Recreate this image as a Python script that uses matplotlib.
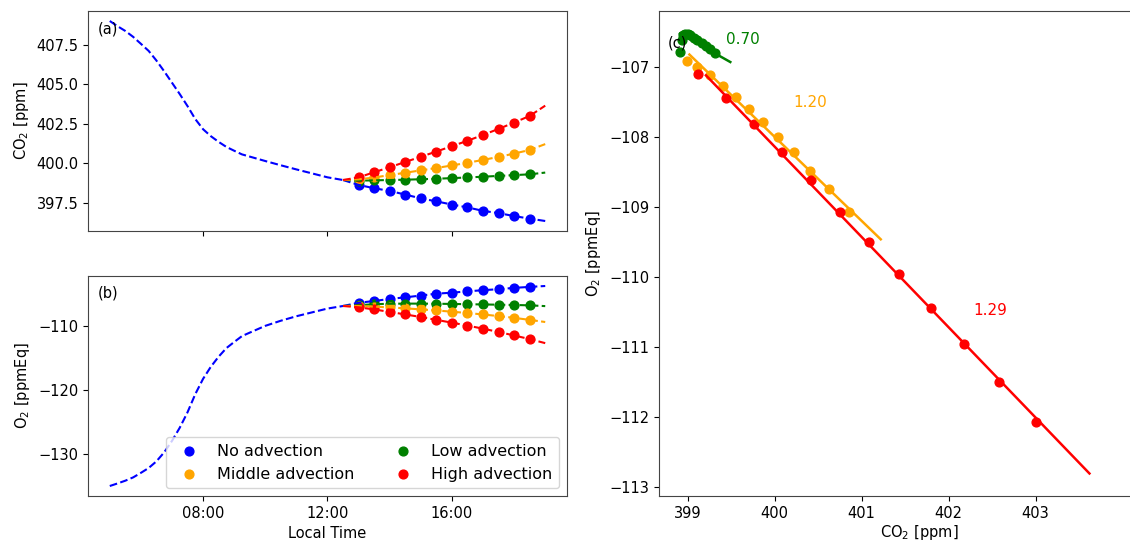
import matplotlib
matplotlib.use("Agg")
import matplotlib.pyplot as plt
import matplotlib.dates as mdates
from matplotlib.ticker import MultipleLocator
import numpy as np
import pandas as pd

# --- data ---
day = "2020-06-01 "
morning_times = pd.to_datetime([day + t for t in [
    "05:00", "05:15", "05:30", "05:45", "06:00", "06:15", "06:30", "06:45",
    "07:00", "07:15", "07:30", "07:45", "08:00", "08:15", "08:30", "08:45",
    "09:00", "09:15", "09:30", "10:00", "10:30", "11:00", "11:30", "12:00",
    "12:30"]])
co2_morning = [409.0, 408.67, 408.37, 408.0, 407.56, 407.11, 406.5, 405.82,
               405.1, 404.38, 403.62, 402.8, 402.16, 401.72, 401.36, 401.04,
               400.8, 400.57, 400.43, 400.15, 399.88, 399.62, 399.37, 399.12,
               398.95]
o2_morning = [-135.0, -134.6, -134.17, -133.66, -132.95, -132.19, -131.15, -129.74,
              -127.96, -125.9, -123.49, -120.65, -118.27, -116.38, -114.81, -113.47,
              -112.52, -111.6, -111.06, -110.0, -109.2, -108.5, -107.9, -107.3,
              -106.9]

# afternoon branches: 13:00 ... 18:30 are observations, 19:00 is model end
branch_times = pd.to_datetime([day + t for t in [
    "13:00", "13:30", "14:00", "14:30", "15:00", "15:30", "16:00",
    "16:30", "17:00", "17:30", "18:00", "18:30", "19:00"]])

co2_no = [398.64, 398.43, 398.26, 398.03, 397.79, 397.60, 397.40,
          397.22, 397.00, 396.86, 396.67, 396.51, 396.36]
co2_low = [398.91, 398.93, 398.95, 398.97, 399.00, 399.03, 399.07,
           399.11, 399.16, 399.21, 399.26, 399.31, 399.42]
co2_mid = [398.99, 399.11, 399.26, 399.41, 399.56, 399.71, 399.87,
           400.04, 400.22, 400.41, 400.62, 400.85, 401.22]
co2_high = [399.12, 399.44, 399.76, 400.09, 400.42, 400.75, 401.09,
            401.43, 401.80, 402.18, 402.58, 403.00, 403.65]

o2_no = [-106.40, -106.12, -105.80, -105.55, -105.27, -104.98, -104.82,
         -104.62, -104.43, -104.28, -104.07, -103.92, -103.78]
o2_low = [-106.79, -106.62, -106.55, -106.53, -106.53, -106.55, -106.58,
          -106.62, -106.66, -106.70, -106.74, -106.80, -106.92]
o2_mid = [-106.91, -107.00, -107.12, -107.27, -107.43, -107.60, -107.79,
          -108.00, -108.22, -108.48, -108.75, -109.07, -109.40]
o2_high = [-107.10, -107.44, -107.82, -108.22, -108.62, -109.07, -109.50,
           -109.96, -110.44, -110.96, -111.50, -112.07, -112.70]

scenario_names = ["No advection", "Low advection", "Middle advection", "High advection"]
scenario_colors = ["blue", "green", "orange", "red"]

# panel (c): fitted O2:CO2 slopes and the CO2 range the fit lines span
fit_slopes = [0.70, 1.20, 1.29]
fit_co2_start = [398.91, 399.02, 399.21]
fit_co2_end = [399.49, 401.22, 403.62]
slope_label_co2 = [399.44, 400.21, 402.29]
slope_label_o2 = [-106.67, -107.57, -110.55]

plt.rcParams["font.size"] = 10.5
plt.rcParams["axes.edgecolor"] = "#444444"

W, H = 1130, 543
fig = plt.figure(figsize=(W / 100, H / 100), dpi=100)
ax_a = fig.add_axes([88 / W, 1 - 231 / H, 479 / W, 220 / H])
ax_b = fig.add_axes([88 / W, 1 - 496 / H, 479 / W, 220 / H], sharex=ax_a)
# right panel runs past the figure edge (reference is cropped there)
ax_c = fig.add_axes([659 / W, 1 - 496 / H, 520 / W, 485 / H])

co2_all = [co2_no, co2_low, co2_mid, co2_high]
o2_all = [o2_no, o2_low, o2_mid, o2_high]

handles = {}
for ax, morning, series in [(ax_a, co2_morning, co2_all), (ax_b, o2_morning, o2_all)]:
    ax.plot(morning_times, morning, "--", color="blue", lw=1.5)
    for name, color, vals in zip(scenario_names, scenario_colors, series):
        line_t = [morning_times[-1]] + list(branch_times)
        line_v = [morning[-1]] + list(vals)
        ax.plot(line_t, line_v, "--", color=color, lw=1.5)
        sc = ax.scatter(branch_times[:-1], vals[:-1], s=40, color=color, label=name)
        handles[name] = sc

ax_a.set_ylabel("CO$_2$ [ppm]")
ax_a.yaxis.set_major_locator(MultipleLocator(2.5))
ax_b.set_ylabel("O$_2$ [ppmEq]")
ax_b.yaxis.set_major_locator(MultipleLocator(10))
ax_b.set_xlabel("Local Time")
ax_b.xaxis.set_major_locator(mdates.HourLocator(byhour=[8, 12, 16]))
ax_b.xaxis.set_major_formatter(mdates.DateFormatter("%H:%M"))
plt.setp(ax_a.get_xticklabels(), visible=False)
ax_a.text(0.02, 0.9, "(a)", transform=ax_a.transAxes)
ax_b.text(0.02, 0.9, "(b)", transform=ax_b.transAxes)

order = ["No advection", "Middle advection", "Low advection", "High advection"]
ax_b.legend([handles[n] for n in order], order, loc="lower right", ncol=2,
            fontsize=11.5, scatterpoints=1)

# panel (c): O2 vs CO2 with linear fits
for i, (color, cvals, ovals) in enumerate(zip(scenario_colors[1:], co2_all[1:], o2_all[1:])):
    cx = np.array(cvals[:-1])
    oy = np.array(ovals[:-1])
    ax_c.scatter(cx, oy, s=40, color=color)
    xs = np.array([fit_co2_start[i], fit_co2_end[i]])
    ys = oy.mean() - fit_slopes[i] * (xs - cx.mean())
    ax_c.plot(xs, ys, "-", color=color, lw=1.8)
    ax_c.text(slope_label_co2[i], slope_label_o2[i], f"{fit_slopes[i]:.2f}",
              color=color, fontsize=11)

ax_c.set_xlim(398.67, 404.65)
ax_c.set_ylim(-113.13, -106.2)
ax_c.set_xticks([399, 400, 401, 402, 403])
ax_c.set_xlabel("CO$_2$ [ppm]", labelpad=2)
ax_c.set_ylabel("O$_2$ [ppmEq]")
ax_c.text(0.016, 0.925, "(c)", transform=ax_c.transAxes)

fig.savefig("out.png", dpi=100)
